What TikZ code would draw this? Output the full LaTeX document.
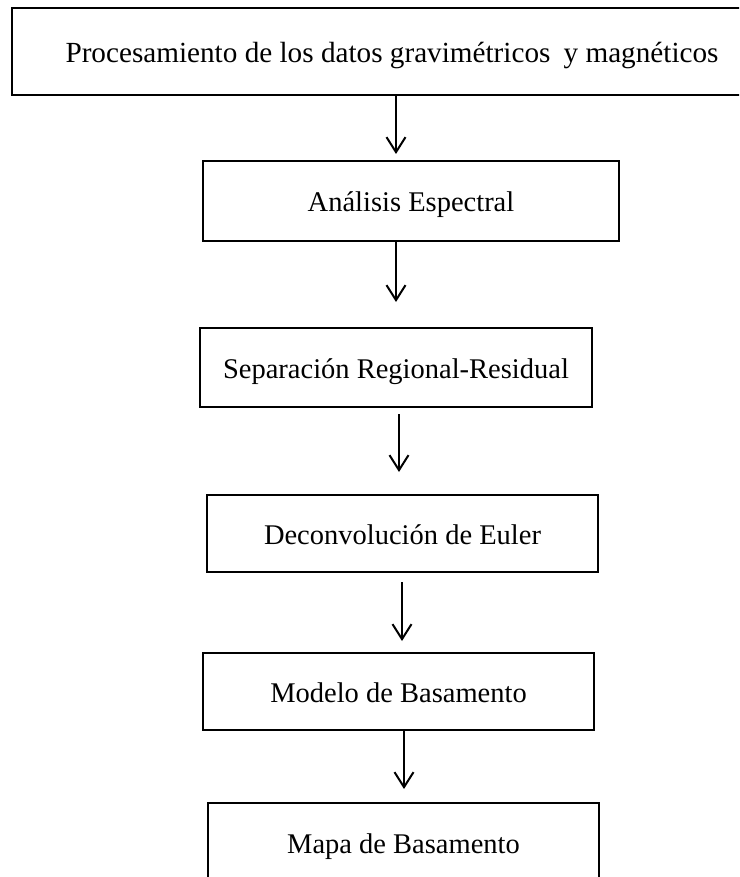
\documentclass[tikz,border=0pt]{standalone}
\usepackage{fontspec}
\setmainfont{Liberation Serif}
\usetikzlibrary{arrows.meta}
\begin{document}
\begin{tikzpicture}[x=1pt,y=-1pt,
  stepbox/.style={draw, line width=2pt, inner sep=0pt, text height=22pt, text depth=0pt,
    font=\fontsize{28.5}{32}\selectfont},
  flow/.style={line width=2pt, -{Straight Barb[length=15pt,width=19pt,line width=2pt]}}]
  \useasboundingbox (0,0) rectangle (739,877);
  \clip (0,0) rectangle (739,877);

  % process boxes, top to bottom
  \node[stepbox, minimum width=760pt, minimum height=87pt, font=\fontsize{29.2}{33}\selectfont] (b1) at (392,51.5)
    {Procesamiento de los datos gravimétricos\hspace{0.2em} y magnéticos};
  \node[stepbox, minimum width=416pt, minimum height=80pt] (b2) at (411,201)
    {Análisis Espectral};
  \node[stepbox, minimum width=392pt, minimum height=79pt] (b3) at (396,367.5)
    {Separación Regional-Residual};
  \node[stepbox, minimum width=391pt, minimum height=77pt] (b4) at (402.5,533.5)
    {Deconvolución de Euler};
  \node[stepbox, minimum width=391pt, minimum height=77pt] (b5) at (398.5,691.5)
    {Modelo de Basamento};
  \node[stepbox, minimum width=391pt, minimum height=78pt] (b6) at (403.5,842)
    {Mapa de Basamento};

  % connectors
  \draw[flow, shorten >=6pt] (b1.south -| 396,0) -- (b2.north -| 396,0);
  \draw[flow, shorten >=25pt] (b2.south -| 396,0) -- (b3.north -| 396,0);
  \draw[flow, shorten <=6pt, shorten >=22pt] (b3.south -| 399,0) -- (b4.north -| 399,0);
  \draw[flow, shorten <=9pt, shorten >=11pt] (b4.south -| 402,0) -- (b5.north -| 402,0);
  \draw[flow, shorten >=13pt] (b5.south -| 404,0) -- (b6.north -| 404,0);
\end{tikzpicture}
\end{document}
